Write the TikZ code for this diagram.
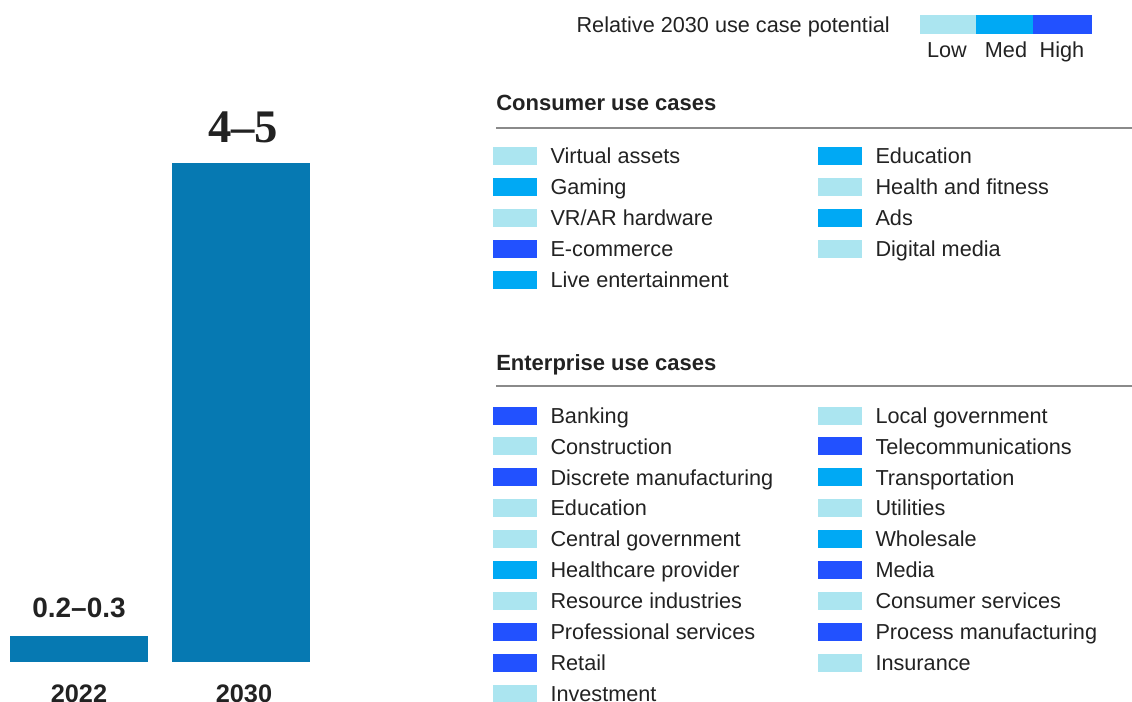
\documentclass[tikz,border=0pt]{standalone}
\usepackage{fontspec}
\setmainfont{Liberation Sans}
\newfontfamily\numfont{Liberation Serif}
\usetikzlibrary{positioning}
\definecolor{lowc}{HTML}{ABE5F0}
\definecolor{medc}{HTML}{00A9F4}
\definecolor{highc}{HTML}{2251FF}
\definecolor{barc}{HTML}{0679B2}
\definecolor{ink}{HTML}{222222}
\definecolor{rulec}{HTML}{8A8A8A}

\begin{document}
\begin{tikzpicture}[x=0.75pt, y=-0.75pt, text=ink,
  swatch/.style={rectangle, inner sep=0, minimum width=33pt, minimum height=13.5pt},
  item/.style={inner sep=0, text height=11.6pt, text depth=0pt, font=\fontsize{16.25}{19}\selectfont},
  head/.style={anchor=base west, inner sep=0, font=\fontsize{16.5}{20}\selectfont\bfseries},
  val/.style={anchor=base, inner sep=0, font=\fontsize{21}{24}\selectfont\bfseries},
  year/.style={anchor=base, inner sep=0, font=\fontsize{19}{22}\selectfont\bfseries}]
  \useasboundingbox (0,0) rectangle (1132,702);

  \fill[barc] (10,636) rectangle (148,662);
  \fill[barc] (172,163) rectangle (310,662);
  \node[val] (v22) at (79,617) {0.2–0.3};
  \node[anchor=base, inner sep=0, font=\numfont\bfseries\fontsize{35}{40}\selectfont] (v30) at (243,143) {4–5};
  \node[year] (y22) at (79,702) {2022};
  \node[year] (y30) at (244,702) {2030};

  \node[item, anchor=base east] (lt) at (890,33) {Relative 2030 use case potential};
  \fill[lowc] (920,15) rectangle (976,34);
  \fill[medc] (976,15) rectangle (1033,34);
  \fill[highc] (1033,15) rectangle (1092,34);
  \node[item, anchor=base] (lo) at (947,58) {Low};
  \node[item, anchor=base] (md) at (1006,58) {Med};
  \node[item, anchor=base] (hi) at (1062,58) {High};

  \node[head] (ch) at (496,111) {Consumer use cases};
  \draw[rulec, line width=1.1pt] (496,128) -- (1132,128);
  \foreach \c/\t [count=\i] in {lowc/Virtual assets, medc/Gaming, lowc/{VR/AR hardware}, highc/E-commerce, medc/Live entertainment}{
    \node[swatch, fill=\c] (ca\i) at (515,{125.1+30.9*\i}) {};
    \node[item, right=9.75pt of ca\i] (cat\i) {\t};
  }
  \foreach \c/\t [count=\i] in {medc/Education, lowc/Health and fitness, medc/Ads, lowc/Digital media}{
    \node[swatch, fill=\c] (cb\i) at (840,{125.1+30.9*\i}) {};
    \node[item, right=9.75pt of cb\i] (cbt\i) {\t};
  }

  \node[head] (eh) at (496,370) {Enterprise use cases};
  \draw[rulec, line width=1.1pt] (496,386) -- (1132,386);
  \foreach \c/\t [count=\i] in {highc/Banking, lowc/Construction, highc/Discrete manufacturing, lowc/Education, lowc/Central government, medc/Healthcare provider, lowc/Resource industries, highc/Professional services, highc/Retail, lowc/Investment}{
    \node[swatch, fill=\c] (ea\i) at (515,{384.6+30.9*\i}) {};
    \node[item, right=9.75pt of ea\i] (eat\i) {\t};
  }
  \foreach \c/\t [count=\i] in {lowc/Local government, highc/Telecommunications, medc/Transportation, lowc/Utilities, medc/Wholesale, highc/Media, lowc/Consumer services, highc/Process manufacturing, lowc/Insurance}{
    \node[swatch, fill=\c] (eb\i) at (840,{384.6+30.9*\i}) {};
    \node[item, right=9.75pt of eb\i] (ebt\i) {\t};
  }
\end{tikzpicture}
\end{document}
